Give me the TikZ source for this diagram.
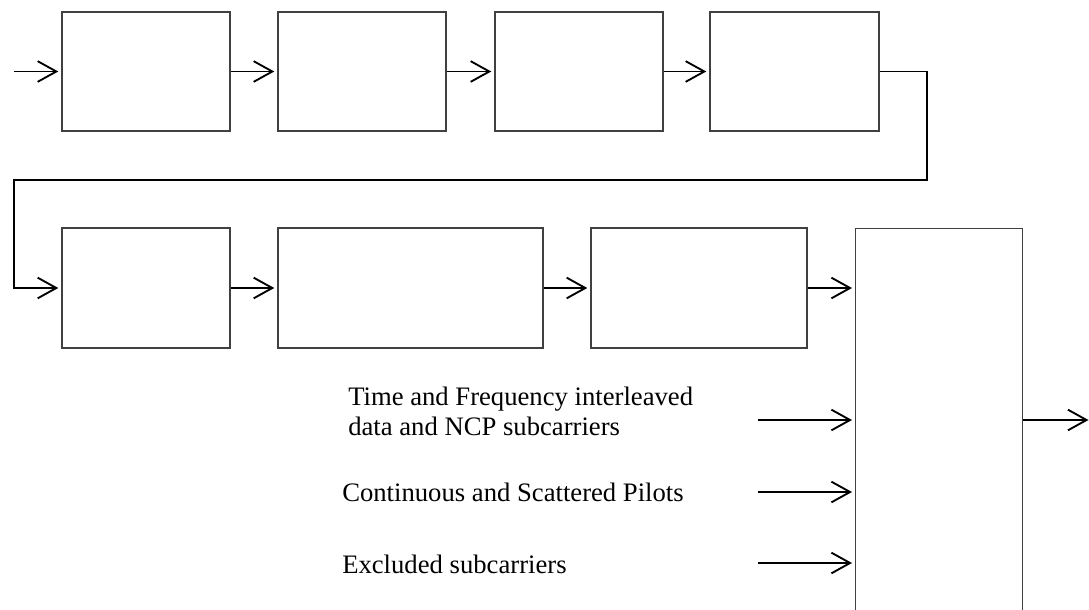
\documentclass[tikz,border=0pt]{standalone}
\usepackage{fontspec}
\setmainfont{Liberation Serif}
\usetikzlibrary{arrows.meta}
\begin{document}
\begin{tikzpicture}[x=0.75pt,y=-0.75pt,
  blockbox/.style={draw=black!75,line width=1.1pt,inner sep=0pt},
  conn/.style={draw=black,line width=1.4pt,-{Straight Barb[length=14pt,width=15.5pt,line width=1.4pt]},shorten >=2.25pt},
  lbl/.style={font=\fontsize{20}{22.5}\selectfont,inner sep=0pt,align=left,anchor=base west}]
\useasboundingbox (0,0) rectangle (1089,610);
\begin{scope}
\clip (0,0) rectangle (1089,610);
\node[blockbox] (b1) at (146,71.5) [minimum width=126pt,minimum height=89.25pt] {};
\node[blockbox] (b2) at (362,71.5) [minimum width=126pt,minimum height=89.25pt] {};
\node[blockbox] (b3) at (579,71.5) [minimum width=126pt,minimum height=89.25pt] {};
\node[blockbox] (b4) at (794.5,71.5) [minimum width=126.75pt,minimum height=89.25pt] {};
\node[blockbox] (b5) at (146,288) [minimum width=126pt,minimum height=90pt] {};
\node[blockbox] (b6) at (410.5,288) [minimum width=198.75pt,minimum height=90pt] {};
\node[blockbox] (b7) at (699,288) [minimum width=162pt,minimum height=90pt] {};
\node[blockbox,anchor=north west,minimum width=125.25pt,minimum height=309pt] (b8) at (855,228) {};
\end{scope}
\coordinate (in) at (14,71.5);
\coordinate (c1) at (927,180);
\coordinate (c2) at (14,180);
\coordinate (s1) at (758,420);
\coordinate (s2) at (758,492);
\coordinate (s3) at (758,563);
\coordinate (out) at (1088.5,420);
\draw[conn] (in) -- (b1.west);
\draw[conn] (b1.east) -- (b2.west);
\draw[conn] (b2.east) -- (b3.west);
\draw[conn] (b3.east) -- (b4.west);
\draw[conn] (b4.east) -| (c1) -- (c2) |- (b5.west);
\draw[conn] (b5.east) -- (b6.west);
\draw[conn] (b6.east) -- (b7.west);
\draw[conn] (b7.east) -- (b7.east -| b8.west);
\draw[conn] (s1) -- (s1 -| b8.west);
\draw[conn] (s2) -- (s2 -| b8.west);
\draw[conn] (s3) -- (s3 -| b8.west);
\draw[conn,shorten >=0pt] (s1 -| b8.east) -- (out);
\node[lbl] (t1) at (348,435.7) {Time and Frequency interleaved\\data and NCP subcarriers};
\node[lbl] (t2) at (342,501.7) {Continuous and Scattered Pilots};
\node[lbl] (t3) at (342,573.5) {Excluded subcarriers};
\end{tikzpicture}
\end{document}
